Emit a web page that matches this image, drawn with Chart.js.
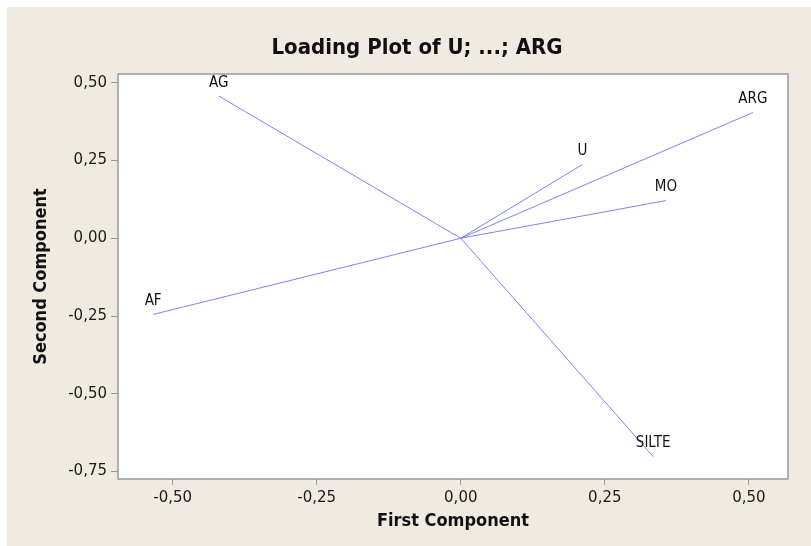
<!DOCTYPE html>
<html lang="en">
<head>
    <meta charset="UTF-8">
    <title>Loading Plot of U; ...; ARG</title>
    <script src="https://cdn.jsdelivr.net/npm/chart.js"></script>
    <style>
        html, body {
            margin: 0;
            padding: 0;
            background: #ffffff;
        }
        #wrap {
            width: 811px;
            height: 546px;
        }
    </style>
</head>
<body>
    <div id="wrap"><canvas id="loadingChart" width="811" height="546"></canvas></div>

    <script>
        // loadings
        const variables = ["U", "AG", "AF", "SILTE", "MO", "ARG"];
        const firstComp = [0.211, -0.420, -0.534, 0.334, 0.356, 0.507];
        const secondComp = [0.237, 0.457, -0.245, -0.702, 0.121, 0.404];

        const xTicks = [-0.50, -0.25, 0.00, 0.25, 0.50];
        const yTicks = [-0.75, -0.50, -0.25, 0.00, 0.25, 0.50];

        const chartTitle = "Loading Plot of U; ...; ARG";

        const lineColor = "#8080ff";
        const frameColor = "#9a9a9a";
        const boldFont = "'DejaVu Sans Condensed', 'DejaVu Sans', sans-serif";

        function fmt(v) {
            return v.toFixed(2).replace(".", ",");
        }

        // one segment from the origin to each loading
        const datasets = variables.map((name, i) => ({
            label: name,
            data: [{ x: 0, y: 0 }, { x: firstComp[i], y: secondComp[i] }],
            showLine: true,
            borderColor: lineColor,
            borderWidth: 1,
            pointRadius: 0,
            pointHoverRadius: 0,
            fill: false
        }));

        const backdrop = {
            id: "backdrop",
            beforeDraw(chart) {
                const ctx = chart.ctx;
                const a = chart.chartArea;
                ctx.save();
                ctx.fillStyle = "#ffffff";
                ctx.fillRect(0, 0, chart.width, chart.height);
                ctx.fillStyle = "#efebe1";
                ctx.fillRect(7, 7, chart.width - 7, chart.height - 7);
                ctx.fillStyle = "#ffffff";
                ctx.fillRect(a.left, a.top, a.right - a.left, a.bottom - a.top);
                ctx.restore();
            },
            afterDraw(chart) {
                const ctx = chart.ctx;
                const a = chart.chartArea;
                ctx.save();
                ctx.strokeStyle = frameColor;
                ctx.lineWidth = 1.5;
                ctx.strokeRect(a.left, a.top, a.right - a.left, a.bottom - a.top);
                // title sits centred on the whole panel, not the plot area
                ctx.font = "bold 22px " + boldFont;
                ctx.fillStyle = "#111111";
                ctx.textAlign = "center";
                ctx.textBaseline = "alphabetic";
                ctx.fillText(chartTitle, 417, 54);
                ctx.restore();
            }
        };

        const endLabels = {
            id: "endLabels",
            afterDatasetsDraw(chart) {
                const ctx = chart.ctx;
                const xs = chart.scales.x;
                const ys = chart.scales.y;
                ctx.save();
                ctx.font = "15px 'DejaVu Sans Condensed', 'DejaVu Sans', sans-serif";
                ctx.fillStyle = "#111111";
                ctx.textAlign = "center";
                ctx.textBaseline = "alphabetic";
                variables.forEach((name, i) => {
                    const px = xs.getPixelForValue(firstComp[i]);
                    const py = ys.getPixelForValue(secondComp[i]);
                    ctx.fillText(name, px, py - 9.5);
                });
                ctx.restore();
            }
        };

        new Chart(document.getElementById("loadingChart"), {
            type: "scatter",
            data: { datasets: datasets },
            options: {
                responsive: false,
                animation: false,
                layout: {
                    padding: { top: 74, left: 7, right: 23, bottom: 14 }
                },
                plugins: {
                    legend: { display: false },
                    tooltip: { enabled: false },
                    title: { display: false }
                },
                scales: {
                    x: {
                        type: "linear",
                        min: -0.595,
                        max: 0.568,
                        afterBuildTicks: (scale) => {
                            scale.ticks = xTicks.map(v => ({ value: v }));
                        },
                        afterFit: (scale) => {
                            scale.height = 53;
                        },
                        ticks: {
                            color: "#1a1a1a",
                            font: { family: "'DejaVu Sans', sans-serif", size: 15 },
                            padding: 4,
                            callback: (v) => fmt(v)
                        },
                        grid: {
                            drawOnChartArea: false,
                            drawTicks: true,
                            tickLength: 6,
                            color: frameColor
                        },
                        border: { display: false },
                        title: {
                            display: true,
                            text: "First Component",
                            color: "#111111",
                            font: { family: boldFont, size: 18, weight: "bold" },
                            padding: { top: 0, bottom: 0 }
                        }
                    },
                    y: {
                        type: "linear",
                        min: -0.774,
                        max: 0.528,
                        afterBuildTicks: (scale) => {
                            scale.ticks = yTicks.map(v => ({ value: v }));
                        },
                        afterFit: (scale) => {
                            scale.width = 111;
                        },
                        ticks: {
                            color: "#1a1a1a",
                            font: { family: "'DejaVu Sans', sans-serif", size: 15 },
                            padding: 4,
                            callback: (v) => fmt(v)
                        },
                        grid: {
                            drawOnChartArea: false,
                            drawTicks: true,
                            tickLength: 7,
                            color: frameColor
                        },
                        border: { display: false },
                        title: {
                            display: true,
                            text: "Second Component",
                            color: "#111111",
                            font: { family: boldFont, size: 18, weight: "bold" },
                            padding: { top: 24, bottom: 0 }
                        }
                    }
                }
            },
            plugins: [backdrop, endLabels]
        });
    </script>
</body>
</html>
